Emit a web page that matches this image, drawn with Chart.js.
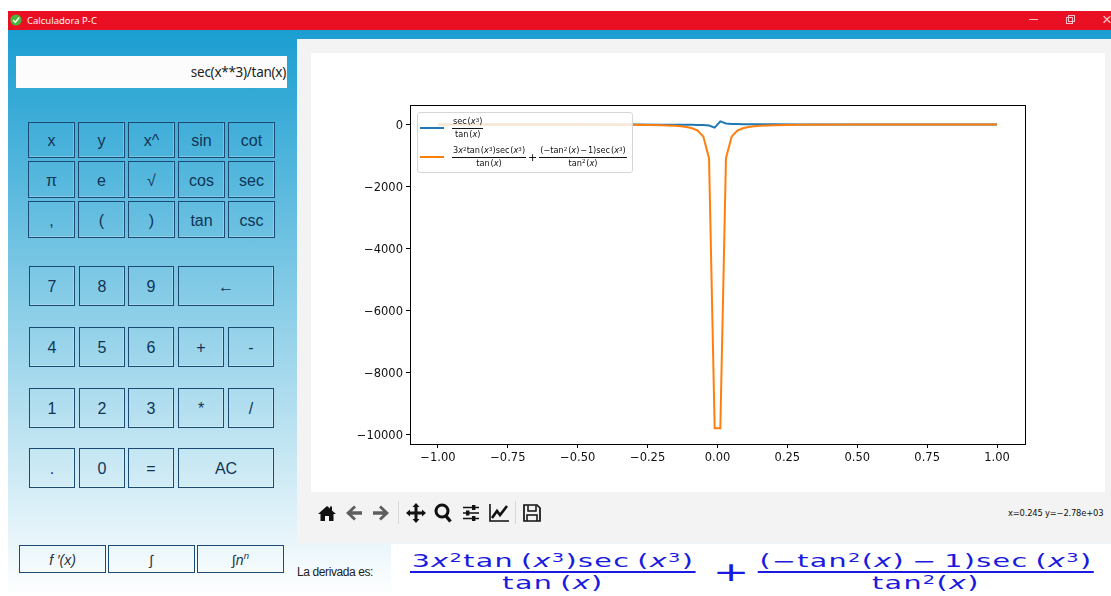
<!DOCTYPE html>
<html>
<head>
<meta charset="utf-8">
<title>Calculadora P-C</title>
<script src="https://cdn.jsdelivr.net/npm/chart.js@4"></script>
<style>
html, body { margin: 0; padding: 0; width: 1111px; height: 596px; overflow: hidden; background: #fff; font-family: "Liberation Sans", sans-serif; }
.abs, .btn { position: absolute; box-sizing: border-box; }
#app-bg { left: 8px; top: 30px; width: 1103px; height: 566px; background: linear-gradient(#1a9ed1, #ffffff); }
#titlebar { left: 8px; top: 11px; width: 1103px; height: 19px; background: #ea1024; color: #fff0f3; font: 9.5px "Noto Sans", sans-serif; line-height: 19px; padding-left: 19px; }
#app-icon { left: 10px; top: 14px; width: 12px; height: 12px; }
#display { left: 16px; top: 56px; width: 271px; height: 32px; background: #fcfcfc; font: 13.5px "Noto Sans", sans-serif; letter-spacing: -.27px; color: #222; text-align: right; line-height: 33px; padding-right: 1px; }
.btn { border: 1px solid #1b4a72; box-shadow: inset -1px -1px 0 rgba(255,255,255,.25); color: #0f3555; font: 16px "Liberation Sans", sans-serif; display: flex; align-items: center; justify-content: center; padding-top: 2px; }
.btn.fn { font: italic 14px "Liberation Sans", sans-serif; color: #234; }
#plot-panel { left: 297px; top: 39px; width: 814px; height: 504px; background: #f3f3f3; }
#plot-white { left: 311px; top: 53px; width: 794px; height: 439px; background: #fff; }
#plot-white canvas { display: block; }
#legend { left: 417px; top: 112px; width: 216px; height: 61px; background: rgba(255,255,255,.8); border: 1px solid #d6d6d6; border-radius: 3px; }
.swatch { position: absolute; left: 420px; width: 24px; height: 2px; }
.ltext { position: absolute; font: 8.2px "DejaVu Sans", sans-serif; color: #111; white-space: nowrap; }
.frac { display: inline-flex; flex-direction: column; align-items: center; vertical-align: middle; }
.frac > span { white-space: nowrap; padding: 0 1px; }
.frac > span:first-child { border-bottom: 1px solid currentColor; }
.ltext .frac > span { line-height: 11.5px; }
i { font-style: italic; }
sup { font-size: 68%; line-height: 0; vertical-align: baseline; position: relative; top: -.4em; }
#formula-panel { left: 391px; top: 544px; width: 720px; height: 52px; background: #fff; }
#formula { left: 410px; top: 551px; font: 17px "DejaVu Sans", sans-serif; color: #1a1ae0; white-space: nowrap; transform: scaleX(1.68); transform-origin: left top; }
#formula .plus { font-size: 26px; margin: 0 5px 0 10px; vertical-align: middle; line-height: 1; }
#formula .frac > span { line-height: 20px; letter-spacing: .8px; }
#formula .frac > span:first-child { border-bottom: 2px solid #1a1ae0; }
#derivada-label { left: 297px; top: 565px; font: 12px "Liberation Sans", sans-serif; color: #222; letter-spacing: -.4px; white-space: nowrap; }
#status { left: 1008px; top: 508px; font: 8.4px "DejaVu Sans", sans-serif; color: #111; white-space: nowrap; letter-spacing: -.2px; }
.tool { position: absolute; top: 502px; width: 22px; height: 22px; }
.sep { position: absolute; top: 501px; width: 1px; height: 23px; background: #d8d8d8; }
#winbtns div { position: absolute; color: #f7c0c8; }
</style>
</head>
<body>
<div class="abs" id="app-bg"></div>
<div class="abs" id="titlebar">Calculadora P-C</div>
<svg class="abs" id="app-icon" viewBox="0 0 12 12"><circle cx="6" cy="6" r="5.6" fill="#46b53a"/><path d="M3 6 L5.3 8.3 L9.2 3.6" fill="none" stroke="#f4fff0" stroke-width="1.6"/></svg>
<div id="winbtns">
  <div style="left:1029px;top:19px;width:9px;height:1px;background:#f7c0c8"></div>
  <div style="left:1066px;top:17px;width:7px;height:7px;border:1px solid #f7c0c8;box-sizing:border-box"></div>
  <div style="left:1068px;top:15px;width:7px;height:7px;border:1px solid #f7c0c8;box-sizing:border-box"></div>
  <div style="left:1102px;top:11px;font:17px 'Liberation Sans';line-height:17px">×</div>
</div>
<div class="abs" id="display">sec(x**3)/tan(x)</div>
<div id="keys"></div>

<div class="abs" id="plot-panel"></div>
<div class="abs" id="plot-white"><canvas id="plot" width="794" height="439"></canvas></div>

<div class="abs" id="legend"></div>
<div class="swatch" style="top:126.5px;background:#1f77b4"></div>
<div class="ltext" style="left:452px;top:116px"><span class="frac"><span>sec&#8202;(<i>x</i><sup>3</sup>)</span><span>tan&#8202;(<i>x</i>)</span></span></div>
<div class="swatch" style="top:156px;background:#ff7f0e"></div>
<div class="ltext" style="left:452px;top:145px"><span class="frac"><span>3<i>x</i><sup>2</sup>tan&#8202;(<i>x</i><sup>3</sup>)sec&#8202;(<i>x</i><sup>3</sup>)</span><span>tan&#8202;(<i>x</i>)</span></span><span style="font-size:11px;margin:0 2px;vertical-align:middle">+</span><span class="frac"><span>(−tan<sup>2</sup>&#8202;(<i>x</i>)&#8202;−&#8202;1)sec&#8202;(<i>x</i><sup>3</sup>)</span><span>tan<sup>2</sup>&#8202;(<i>x</i>)</span></span></div>

<svg class="tool" style="left:316px" viewBox="0 0 22 22"><path d="M11 4 L2 12 L4.5 12 L4.5 19 L9 19 L9 14 L13 14 L13 19 L17.5 19 L17.5 12 L20 12 L16 8.4 L16 4.5 L14 4.5 L14 6.6 Z" fill="#111"/></svg>
<svg class="tool" style="left:343px" viewBox="0 0 22 22"><path d="M3 11 L11 3.5 L13 5.5 L9 9.3 L19 9.3 L19 12.7 L9 12.7 L13 16.5 L11 18.5 Z" fill="#5e5e5e"/></svg>
<svg class="tool" style="left:370px" viewBox="0 0 22 22"><path d="M19 11 L11 3.5 L9 5.5 L13 9.3 L3 9.3 L3 12.7 L13 12.7 L9 16.5 L11 18.5 Z" fill="#5e5e5e"/></svg>
<div class="sep" style="left:398px"></div>
<svg class="tool" style="left:405px" viewBox="0 0 22 22"><path d="M11 1 L14.5 5 L12.5 5 L12.5 9.5 L17 9.5 L17 7.5 L21 11 L17 14.5 L17 12.5 L12.5 12.5 L12.5 17 L14.5 17 L11 21 L7.5 17 L9.5 17 L9.5 12.5 L5 12.5 L5 14.5 L1 11 L5 7.5 L5 9.5 L9.5 9.5 L9.5 5 L7.5 5 Z" fill="#111"/></svg>
<svg class="tool" style="left:432px" viewBox="0 0 22 22"><circle cx="10" cy="9" r="6" fill="none" stroke="#111" stroke-width="3"/><path d="M13.5 13.5 L18.5 19.5" stroke="#111" stroke-width="3.4"/></svg>
<svg class="tool" style="left:460px" viewBox="0 0 22 22"><path d="M3 5.5 H19 M3 11 H19 M3 16.5 H19" stroke="#111" stroke-width="1.6"/><rect x="12" y="3" width="3.4" height="5" fill="#111"/><rect x="6" y="8.5" width="3.4" height="5" fill="#111"/><rect x="12" y="14" width="3.4" height="5" fill="#111"/></svg>
<svg class="tool" style="left:488px" viewBox="0 0 22 22"><path d="M2 2 V19 H21" fill="none" stroke="#111" stroke-width="1.6"/><path d="M4 16 L9 9 L12 13 L19 4" fill="none" stroke="#111" stroke-width="2.6"/></svg>
<div class="sep" style="left:515px"></div>
<svg class="tool" style="left:521px" viewBox="0 0 22 22"><path d="M3 3 H16 L19 6 V19 H3 Z" fill="none" stroke="#111" stroke-width="1.7"/><path d="M7 3.5 V9 H15 V3.5 M6 19 V13 H16 V19" fill="none" stroke="#111" stroke-width="1.5"/></svg>
<div class="abs" id="status">x=0.245 y=−2.78e+03</div>

<div class="abs" id="formula-panel"></div>
<div class="abs" id="derivada-label">La derivada es:</div>
<div class="abs" id="formula"><span class="frac"><span>3<i>x</i><sup>2</sup>tan&#8201;(<i>x</i><sup>3</sup>)sec&#8201;(<i>x</i><sup>3</sup>)</span><span>tan&#8201;(<i>x</i>)</span></span><span class="plus">+</span><span class="frac"><span>(−tan<sup>2</sup>(<i>x</i>)&#8201;−&#8201;1)sec&#8201;(<i>x</i><sup>3</sup>)</span><span>tan<sup>2</sup>(<i>x</i>)</span></span></div>

<script>
// Values
const xValues = [-1, -0.75, -0.5, -0.3, -0.2, -0.1515, -0.1313, -0.1111, -0.0909, -0.0707, -0.0505, -0.0303, -0.0101,
                 0.0101, 0.0303, 0.0505, 0.0707, 0.0909, 0.1111, 0.1313, 0.1515, 0.2, 0.3, 0.5, 0.75, 1];
const secOverTan = [-1.2, -1.2, -1.9, -3.2, -5, -6.5, -7.5, -9, -11, -14, -20, -33, -99,
                    99, 33, 20, 14, 11, 9, 7.5, 6.5, 5, 3.2, 1.9, 1.2, 1.2];
const derivative = [3, -1, -3, -10, -25, -43, -58, -81, -121, -200, -392, -1089, -9801,
                    -9801, -1089, -392, -200, -121, -81, -58, -43, -25, -10, -3, -1, 3];
const xTickValues = [-1, -0.75, -0.5, -0.25, 0, 0.25, 0.5, 0.75, 1];
const xTickLabels = ['−1.00', '−0.75', '−0.50', '−0.25', '0.00', '0.25', '0.50', '0.75', '1.00'];
const yTickValues = [0, -2000, -4000, -6000, -8000, -10000];
const yTickLabels = ['0', '−2000', '−4000', '−6000', '−8000', '−10000'];

// Calculator keys: label, left, right, top, bottom
const keyRows = [
    { top: 122, bottom: 158, keys: [['x', 28, 75], ['y', 78, 125], ['x^', 128, 175], ['sin', 178, 225], ['cot', 228, 275]] },
    { top: 161, bottom: 198, keys: [['π', 28, 75], ['e', 78, 125], ['√', 128, 175], ['cos', 178, 225], ['sec', 228, 275]] },
    { top: 201, bottom: 238, keys: [[',', 28, 75], ['(', 78, 125], [')', 128, 175], ['tan', 178, 225], ['csc', 228, 275]] },
    { top: 266, bottom: 306, keys: [['7', 29, 75], ['8', 79, 125], ['9', 128, 174], ['←', 178, 274]] },
    { top: 327, bottom: 367, keys: [['4', 29, 75], ['5', 79, 125], ['6', 128, 174], ['+', 178, 224], ['-', 228, 274]] },
    { top: 388, bottom: 428, keys: [['1', 29, 75], ['2', 79, 125], ['3', 128, 174], ['*', 178, 224], ['/', 228, 274]] },
    { top: 448, bottom: 488, keys: [['.', 29, 75], ['0', 79, 125], ['=', 128, 174], ['AC', 178, 274]] },
    { top: 545, bottom: 573, fn: true, keys: [['f ′(x)', 19, 106], ['∫', 108, 195], ['∫n<sup>n</sup>', 197, 284]] }
];

function renderKeys() {
    const container = document.getElementById('keys');
    container.innerHTML = keyRows.map(row => row.keys.map(k => `
        <div class="btn ${row.fn ? 'fn' : ''}" style="left:${k[1]}px;top:${row.top}px;width:${k[2] - k[1]}px;height:${row.bottom - row.top}px">${k[0]}</div>
    `).join('')).join('');
}

// Full box around the axes, like matplotlib
const frameBox = {
    id: 'frameBox',
    afterDatasetsDraw(chart) {
        const a = chart.chartArea;
        const ctx = chart.ctx;
        ctx.save();
        ctx.strokeStyle = '#000';
        ctx.lineWidth = 1;
        ctx.strokeRect(Math.round(a.left) + 0.5, Math.round(a.top) + 0.5, Math.round(a.width), Math.round(a.height));
        ctx.restore();
    }
};

function axisOptions(tickValues, tickLabels, min, max, labelOffset) {
    return {
        type: 'linear',
        min: min,
        max: max,
        border: { display: false },
        grid: { drawOnChartArea: false, drawTicks: true, tickLength: 4, color: '#000', lineWidth: 1 },
        afterBuildTicks(axis) {
            axis.ticks = tickValues.map(v => ({ value: v }));
        },
        ticks: {
            autoSkip: false,
            maxRotation: 0,
            color: '#111',
            padding: 3,
            labelOffset: labelOffset,
            font: { family: '"DejaVu Sans"', size: 11.5 },
            callback: (value, index) => tickLabels[index]
        }
    };
}

function initChart() {
    const ctx = document.getElementById('plot').getContext('2d');
    const xAxis = axisOptions(xTickValues, xTickLabels, -1.1, 1.1, 0);
    xAxis.afterFit = scale => { scale.height = 48; };
    const yAxis = axisOptions(yTickValues, yTickLabels, -10306, 629, 1.5);
    yAxis.afterFit = scale => { scale.width = 99; };

    new Chart(ctx, {
        type: 'line',
        data: {
            datasets: [
                {
                    label: 'sec(x^3)/tan(x)',
                    data: xValues.map((x, i) => ({ x: x, y: secOverTan[i] })),
                    borderColor: '#1f77b4',
                    borderWidth: 2,
                    pointRadius: 0,
                    tension: 0,
                    order: 2
                },
                {
                    label: "derivative",
                    data: xValues.map((x, i) => ({ x: x, y: derivative[i] })),
                    borderColor: '#ff7f0e',
                    borderWidth: 2,
                    pointRadius: 0,
                    tension: 0,
                    order: 1
                }
            ]
        },
        options: {
            responsive: false,
            animation: false,
            layout: { padding: { left: 0, right: 80, top: 52, bottom: 0 } },
            plugins: { legend: { display: false }, tooltip: { enabled: false } },
            scales: { x: xAxis, y: yAxis }
        },
        plugins: [frameBox]
    });
}

renderKeys();
initChart();
</script>
</body>
</html>
